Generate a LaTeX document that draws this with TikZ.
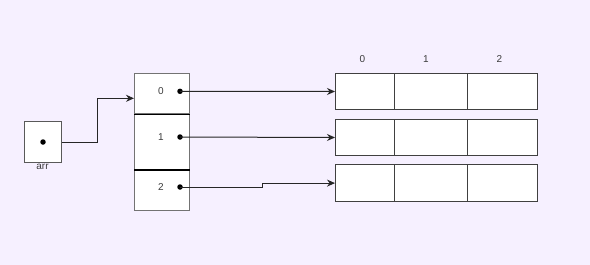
\documentclass[tikz,border=0pt]{standalone}
\usepackage{fontspec}
\setmainfont{Liberation Sans}
\usetikzlibrary{arrows.meta}
\definecolor{bgc}{RGB}{246,240,255}
\definecolor{txt}{RGB}{60,60,60}
\begin{document}
\begin{tikzpicture}[x=1pt,y=-1pt,
  cell/.style={draw=black!75,fill=white,line width=1pt,minimum width=#1,minimum height=36.6pt,inner sep=0pt,anchor=north west},
  pcell/.style={draw=black!55,fill=white,line width=1pt,minimum width=55pt,inner sep=0pt,anchor=north west},
  lbl/.style={text=txt,font=\fontsize{10}{12}\selectfont,inner sep=0pt},
  dotm/.style={circle,fill=black,inner sep=0pt,minimum size=5.5pt},
  conn/.style={draw=black!85,line width=1pt,-{Stealth[length=8pt,width=7pt]}},
  divl/.style={draw=black,line width=1.6pt}]
\fill[bgc] (0,0) rectangle (590,265);
\useasboundingbox (0,0) rectangle (590,265);
% arr box
\node[draw=black!65,fill=white,line width=1pt,minimum width=37pt,minimum height=41pt,inner sep=0pt,anchor=north west] (arr) at (24,121) {};
\node[dotm] (arrdot) at (arr.center) {};
\node[lbl,anchor=north] (arrlbl) at (42.5,164) {arr};
% pointer column
\node[pcell,minimum height=40.6pt] (p0) at (134,72.7) {};
\node[pcell,minimum height=55.4pt] (p1) at (134,113.3) {};
\node[pcell,minimum height=41.3pt] (p2) at (134,168.7) {};
\draw[divl] (p0.south west) -- (p0.south east);
\draw[divl] (p1.south west) -- (p1.south east);
\node[lbl] (l0) at (161,91.3) {0};
\node[lbl] (l1) at (161,137) {1};
\node[lbl] (l2) at (161,187) {2};
\node[dotm] (d0) at (180,91.3) {};
\node[dotm] (d1) at (180,137) {};
\node[dotm] (d2) at (180,187) {};
% arrays
\foreach \r/\y in {0/72.7,1/118.7,2/164.3}{
  \node[cell=59pt] (r\r c0) at (335,\y) {};
  \node[cell=73.3pt] (r\r c1) at (394,\y) {};
  \node[cell=69.4pt] (r\r c2) at (467.3,\y) {};
}
\node[lbl] (h0) at (362.3,59) {0};
\node[lbl] (h1) at (426,59) {1};
\node[lbl] (h2) at (499.3,59) {2};
% connectors
\coordinate (a1) at (97,98.3);
\draw[conn] (arr.east) -| (a1) -- (p0.west |- a1);
\draw[conn] (d0.center) -- (r0c0.west);
\draw[conn] (d1.center) -- (r1c0.west);
\coordinate (s2) at (262,0);
\draw[conn] (d2.center) -- (s2 |- d2) -- (s2 |- r2c0.west) -- (r2c0.west);
\end{tikzpicture}
\end{document}
